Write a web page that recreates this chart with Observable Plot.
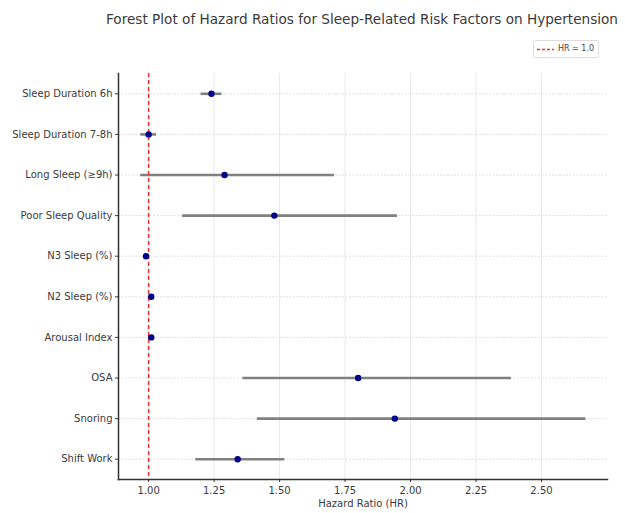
<!DOCTYPE html>
<html>
<head>
<meta charset="utf-8">
<script src="https://cdn.jsdelivr.net/npm/d3@7"></script>
<script src="https://cdn.jsdelivr.net/npm/@observablehq/plot@0.6"></script>
<style>
  body { margin: 0; background: #fff; font-family: "DejaVu Sans", sans-serif; }
  #wrap { position: relative; width: 625px; height: 513px; overflow: hidden; }
  #header { position: relative; width: 625px; height: 60px; }
  #title { position: absolute; top: 11px; left: 0; width: 625px; text-align: left; white-space: nowrap; font-size: 14px; color: #3a3a3a; }
  #title span { display: inline-block; transform-origin: 0 0; }
  #legend { position: absolute; left: 533px; top: 40px; width: 64px; height: 16px; border: 1px solid #ddd; border-radius: 2px; background: #fff; font-size: 8px; color: #444; }
  #legend svg { position: absolute; left: 3px; top: 7px; }
  #legend .lbl { position: absolute; left: 24px; top: 3px; }
  #chart svg { display: block; }
</style>
</head>
<body>
<div id="wrap">
  <div id="header">
    <div id="title"><span id="titleText">Forest Plot of Hazard Ratios for Sleep-Related Risk Factors on Hypertension</span></div>
    <div id="legend"><svg width="18" height="3"><line x1="0" y1="1.5" x2="17" y2="1.5" stroke="#f03030" stroke-width="1.5" stroke-dasharray="3,2"/></svg><span class="lbl">HR = 1.0</span></div>
  </div>
  <div id="chart"></div>
</div>
<script>
const factors = ["Sleep Duration 6h", "Sleep Duration 7-8h", "Long Sleep (≥9h)", "Poor Sleep Quality", "N3 Sleep (%)", "N2 Sleep (%)", "Arousal Index", "OSA", "Snoring", "Shift Work"];
const hr      = [1.24, 1.00, 1.29, 1.48, 0.99, 1.01, 1.01, 1.80, 1.94, 1.34];
const ciLow   = [1.20, 0.97, 0.97, 1.13, 0.985, 1.005, 1.005, 1.36, 1.415, 1.18];
const ciHigh  = [1.28, 1.03, 1.71, 1.95, 0.995, 1.015, 1.015, 2.385, 2.67, 1.52];
const xTicks  = [1.00, 1.25, 1.50, 1.75, 2.00, 2.25, 2.50];
const refHR   = [1.0];

const rows = factors.map((f, i) => ({factor: f, hr: hr[i], lo: ciLow[i], hi: ciHigh[i]}));

const chart = Plot.plot({
  width: 625,
  height: 453,
  marginTop: 13,
  marginBottom: 34,
  marginLeft: 118,
  marginRight: 18,
  style: {fontFamily: "DejaVu Sans, sans-serif", fontSize: "10px", color: "#3a3a3a", background: "#fff"},
  x: {domain: [0.885, 2.752], ticks: xTicks, tickFormat: d3.format(".2f"), label: null, tickSize: 3},
  y: {type: "point", domain: factors, padding: 0.5, round: false, label: null, tickSize: 3},
  marks: [
    Plot.ruleX(xTicks, {stroke: "#e8e8e8", strokeWidth: 1}),
    Plot.ruleY(factors, {x1: 0.885, x2: 2.752, stroke: "#dedede", strokeWidth: 1, strokeDasharray: "2,1.5"}),
    Plot.ruleY(rows, {y: "factor", x1: "lo", x2: "hi", stroke: "#808080", strokeWidth: 2.6}),
    Plot.ruleX(refHR, {stroke: "#f03030", strokeWidth: 1.5, strokeDasharray: "4,3"}),
    Plot.dot(rows, {x: "hr", y: "factor", r: 3.2, fill: "#00008b", stroke: "none"}),
    Plot.axisX({ticks: xTicks, tickFormat: d3.format(".2f"), tickSize: 3, tickPadding: 4, label: null, stroke: "#333", color: "#3a3a3a"}),
    Plot.axisY({tickSize: 3, tickPadding: 3, label: null, color: "#3a3a3a"}),
    Plot.frame({anchor: "left", stroke: "#333", strokeWidth: 1.5}),
    Plot.frame({anchor: "bottom", stroke: "#333", strokeWidth: 1.5}),
    Plot.text(["Hazard Ratio (HR)"], {frameAnchor: "bottom", dy: 24, fontSize: 10, fill: "#3a3a3a", lineAnchor: "middle"})
  ]
});
document.getElementById("chart").appendChild(chart);

// fit title into the reference span (x 106..618)
const t = document.getElementById("titleText");
const w = t.getBoundingClientRect().width;
const target = 512;
t.style.transform = `translateX(106px) scaleX(${target / w})`;
</script>
</body>
</html>
